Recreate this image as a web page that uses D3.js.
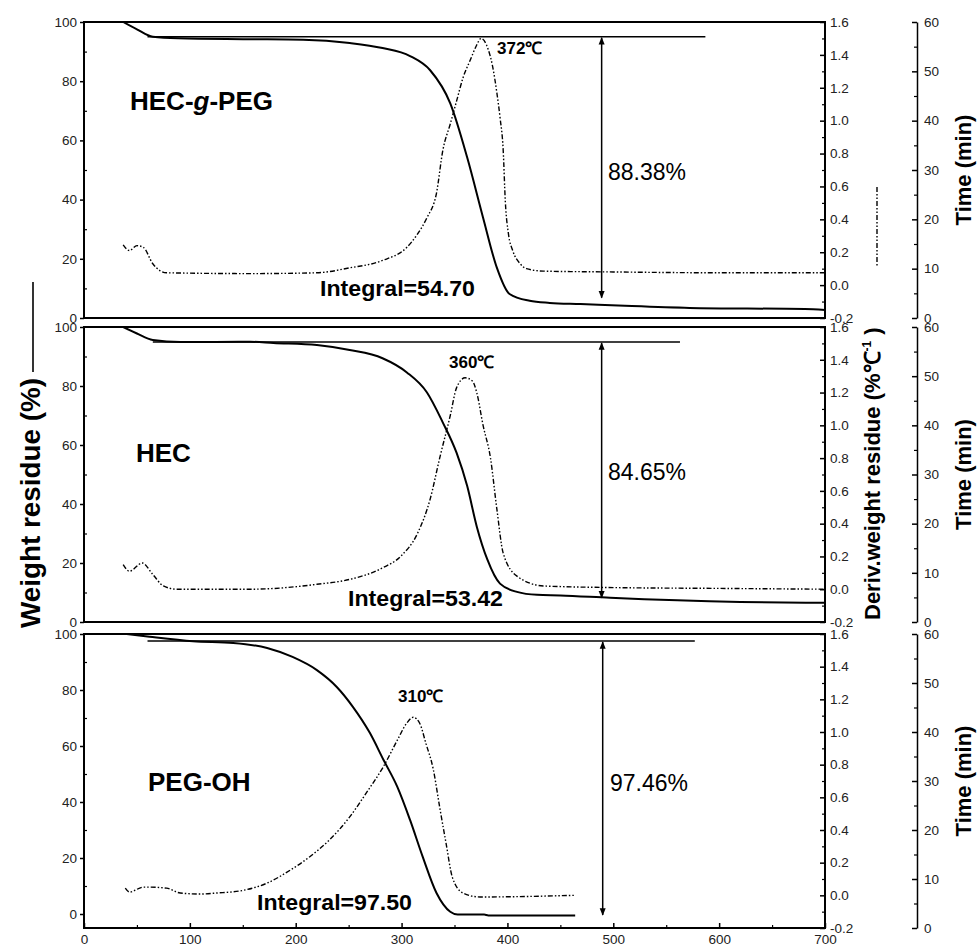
<!DOCTYPE html>
<html><head><meta charset="utf-8">
<script src="https://cdn.jsdelivr.net/npm/d3@7"></script>
<style>body{margin:0;background:#fff}</style>
</head><body><svg id="c" width="977" height="949"></svg>
<script>
// ---------- data ----------
const tempTicks = [0, 100, 200, 300, 400, 500, 600, 700];
const wtTicks = [0, 20, 40, 60, 80, 100];
const derivTicks = [-0.2, 0.0, 0.2, 0.4, 0.6, 0.8, 1.0, 1.2, 1.4, 1.6];
const timeTicks = [0, 10, 20, 30, 40, 50, 60];

const sampleNames = ["HEC-g-PEG", "HEC", "PEG-OH"];

// TG (weight residue, %) curves
const tgT1 = [37, 50, 65, 89, 154, 207, 251, 282, 308, 327, 346, 362, 377, 390, 402, 421, 440, 469, 511, 572, 681, 700];
const tgW1 = [100, 97.5, 95.0, 94.5, 94.2, 94.0, 92.9, 91.2, 88.5, 83.7, 72.5, 54.2, 33.9, 17.0, 8.1, 5.8, 5.1, 4.7, 4.1, 3.4, 3.0, 2.7];
const tgT2 = [37, 50, 65, 91, 157, 179, 220, 251, 282, 305, 324, 339, 352, 362, 371, 381, 393, 409, 428, 450, 497, 620, 700];
const tgW2 = [100, 97.8, 95.6, 94.9, 95.0, 94.6, 93.9, 92.2, 89.4, 84.6, 77.8, 67.6, 57.3, 46.1, 32.4, 21.2, 13.0, 10.2, 9.2, 9.0, 8.2, 6.8, 6.5];
const tgT3 = [40, 62, 103, 141, 173, 197, 220, 239, 254, 270, 283, 296, 308, 320, 333, 346, 353, 378, 382, 464];
const tgW3 = [100, 99.0, 97.4, 96.8, 95.0, 91.8, 87.1, 81.0, 74.0, 64.7, 55.0, 45.4, 33.6, 20.4, 7.5, 0.8, -0.2, -0.2, -0.5, -0.5];

// DTG (deriv. weight residue, %/°C) curves
const dtgT1 = [37, 43, 50, 56, 65, 78, 157, 220, 251, 282, 305, 315, 324, 333, 339, 346, 352, 358, 365, 371, 375, 382, 386, 390, 393, 396, 398, 401, 405, 412, 418, 434, 500, 600, 700];
const dtgV1 = [0.245, 0.21, 0.24, 0.23, 0.13, 0.075, 0.07, 0.075, 0.105, 0.15, 0.23, 0.31, 0.41, 0.56, 0.82, 0.98, 1.12, 1.26, 1.37, 1.46, 1.50, 1.43, 1.33, 1.17, 1.02, 0.82, 0.51, 0.31, 0.21, 0.13, 0.10, 0.085, 0.08, 0.075, 0.075];
const dtgT2 = [37, 43, 55, 65, 75, 88, 157, 220, 251, 282, 299, 315, 327, 336, 346, 352, 360, 367, 371, 377, 384, 390, 396, 409, 434, 500, 600, 700];
const dtgV2 = [0.15, 0.11, 0.16, 0.09, 0.02, 0.0, 0.0, 0.03, 0.06, 0.13, 0.20, 0.34, 0.55, 0.80, 1.06, 1.23, 1.29, 1.27, 1.20, 1.00, 0.80, 0.49, 0.22, 0.08, 0.02, 0.01, 0.005, 0.0];
const dtgT3 = [39, 43, 56, 62, 78, 91, 110, 125, 150, 173, 195, 213, 232, 251, 267, 283, 296, 305, 311, 317, 323, 330, 336, 342, 348, 358, 374, 464];
const dtgV3 = [0.044, 0.02, 0.05, 0.05, 0.044, 0.014, 0.008, 0.014, 0.03, 0.075, 0.155, 0.235, 0.34, 0.48, 0.63, 0.79, 0.95, 1.055, 1.09, 1.055, 0.93, 0.77, 0.54, 0.32, 0.11, 0.014, -0.01, 0.0];

// annotations
const peakLabels = ["372\u2103", "360\u2103", "310\u2103"];
const integralLabels = ["Integral=54.70", "Integral=53.42", "Integral=97.50"];
const lossLabels = ["88.38%", "84.65%", "97.46%"];
const refLevel = [95.0, 94.9, 97.5];      // horizontal reference line (wt %)
const refStartT = [60, 65, 60];
const refEndT = [587, 563, 577];
const arrowT = [489, 489, 490];
const arrowLow = [6.8, 8.2, -0.4];

// ---------- layout ----------
const FONT = "'Liberation Sans', Arial, Helvetica, sans-serif";
const svg = d3.select("#c");
const X0 = 84, X1 = 825, TX = 917;
const panels = [
  {top: 22, bottom: 318, wmin: 0, tg: [tgT1, tgW1], dtg: [dtgT1, dtgV1],
   name: [130, 110], peak: [497, 54], integ: [320, 296], loss: [608, 180]},
  {top: 327, bottom: 622, wmin: 0, tg: [tgT2, tgW2], dtg: [dtgT2, dtgV2],
   name: [136, 462], peak: [449, 368], integ: [348, 606], loss: [608, 480]},
  {top: 634, bottom: 928, wmin: -5, tg: [tgT3, tgW3], dtg: [dtgT3, dtgV3],
   name: [148, 791], peak: [398, 702], integ: [257, 910], loss: [610, 791]}
];

const x = d3.scaleLinear().domain([0, 700]).range([X0, X1]);

const defs = svg.append("defs");
defs.append("marker").attr("id", "ah").attr("viewBox", "0 0 10 10")
  .attr("refX", 9).attr("refY", 5).attr("markerWidth", 5).attr("markerHeight", 5)
  .attr("orient", "auto-start-reverse")
  .append("path").attr("d", "M0,1 L10,5 L0,9 Z").attr("fill", "#000");

panels.forEach((p, i) => {
  const y = d3.scaleLinear().domain([p.wmin, 100]).range([p.bottom, p.top]);
  const yd = d3.scaleLinear().domain([-0.2, 1.6]).range([p.bottom, p.top]);
  const yt = d3.scaleLinear().domain([0, 60]).range([p.bottom, p.top]);
  const g = svg.append("g");

  defs.append("clipPath").attr("id", "clip" + i).append("rect")
    .attr("x", X0).attr("y", p.top).attr("width", X1 - X0).attr("height", p.bottom - p.top);

  // left axis
  const la = g.append("g").attr("transform", `translate(${X0},0)`)
    .call(d3.axisLeft(y).tickValues(wtTicks).tickSizeInner(4).tickSizeOuter(0).tickPadding(3));
  la.select(".domain").remove();
  la.selectAll("text").attr("font-size", 13.5).attr("font-family", FONT).attr("fill", "#222");
  la.selectAll("line").attr("stroke-width", 1.5);
  const lm = g.append("g").attr("transform", `translate(${X0},0)`)
    .call(d3.axisLeft(y).tickValues([10, 30, 50, 70, 90]).tickSize(-3).tickFormat(""));
  lm.select(".domain").remove();
  lm.selectAll("line").attr("stroke-width", 1.2);

  // right (derivative) axis, ticks inward
  const ra = g.append("g").attr("transform", `translate(${X1},0)`)
    .call(d3.axisRight(yd).tickValues(derivTicks).tickSizeInner(-5).tickSizeOuter(0)
      .tickPadding(5).tickFormat(d3.format(".1f")));
  ra.select(".domain").remove();
  ra.selectAll("text").attr("font-size", 13.5).attr("font-family", FONT).attr("fill", "#222")
    .text(d => d3.format(".1f")(d).replace("\u2212", "-"));
  ra.selectAll("line").attr("stroke-width", 1.5);
  const rm = g.append("g").attr("transform", `translate(${X1},0)`)
    .call(d3.axisRight(yd).tickValues([-0.1, 0.1, 0.3, 0.5, 0.7, 0.9, 1.1, 1.3, 1.5]).tickSize(-3).tickFormat(""));
  rm.select(".domain").remove();
  rm.selectAll("line").attr("stroke-width", 1.2);

  // time axis
  const ta = g.append("g").attr("transform", `translate(${TX},0)`)
    .call(d3.axisRight(yt).tickValues(timeTicks).tickSizeInner(-5).tickSizeOuter(0).tickPadding(7));
  ta.select(".domain").attr("stroke-width", 1.5);
  ta.selectAll("text").attr("font-size", 13.5).attr("font-family", FONT).attr("fill", "#222");
  ta.selectAll("line").attr("stroke-width", 1.5);
  const tm = g.append("g").attr("transform", `translate(${TX},0)`)
    .call(d3.axisRight(yt).tickValues([5, 15, 25, 35, 45, 55]).tickSize(-3).tickFormat(""));
  tm.select(".domain").remove();
  tm.selectAll("line").attr("stroke-width", 1.2);

  g.append("text").attr("transform", `translate(971,${(p.top + p.bottom) / 2}) rotate(-90)`)
    .attr("text-anchor", "middle").attr("font-family", FONT).attr("font-weight", "bold")
    .attr("font-size", 22).text("Time (min)");

  // bottom axis for last panel
  if (i === 2) {
    const ba = g.append("g").attr("transform", `translate(0,${p.bottom})`)
      .call(d3.axisBottom(x).tickValues(tempTicks).tickSizeInner(-5).tickSizeOuter(0).tickPadding(6));
    ba.select(".domain").remove();
    ba.selectAll("text").attr("font-size", 13.5).attr("font-family", FONT).attr("fill", "#222");
    ba.selectAll("line").attr("stroke-width", 1.5);
    const bm = g.append("g").attr("transform", `translate(0,${p.bottom})`)
      .call(d3.axisBottom(x).tickValues([50, 150, 250, 350, 450, 550, 650]).tickSize(-3).tickFormat(""));
    bm.select(".domain").remove();
    bm.selectAll("line").attr("stroke-width", 1.2);
  }

  const plot = g.append("g").attr("clip-path", `url(#clip${i})`);

  // reference line
  plot.append("line").attr("x1", x(refStartT[i])).attr("x2", x(refEndT[i]))
    .attr("y1", y(refLevel[i])).attr("y2", y(refLevel[i]))
    .attr("stroke", "#000").attr("stroke-width", 1.6);

  // TG curve
  const tgData = p.tg[0].map((t, k) => [t, p.tg[1][k]]);
  plot.append("path").datum(tgData)
    .attr("d", d3.line().x(d => x(d[0])).y(d => y(d[1])).curve(d3.curveMonotoneX))
    .attr("fill", "none").attr("stroke", "#000").attr("stroke-width", 2);

  // DTG curve
  const dtgData = p.dtg[0].map((t, k) => [t, p.dtg[1][k]]);
  plot.append("path").datum(dtgData)
    .attr("d", d3.line().x(d => x(d[0])).y(d => yd(d[1])).curve(d3.curveMonotoneX))
    .attr("fill", "none").attr("stroke", "#000").attr("stroke-width", 1.4)
    .attr("stroke-dasharray", "5,2,1.5,2,1.5,2");

  // double arrow
  g.append("line").attr("x1", x(arrowT[i])).attr("x2", x(arrowT[i]))
    .attr("y1", y(refLevel[i]) + 1).attr("y2", y(arrowLow[i]))
    .attr("stroke", "#000").attr("stroke-width", 1.5)
    .attr("marker-start", "url(#ah)").attr("marker-end", "url(#ah)");

  // frame
  g.append("rect").attr("x", X0).attr("y", p.top).attr("width", X1 - X0).attr("height", p.bottom - p.top)
    .attr("fill", "none").attr("stroke", "#000").attr("stroke-width", 2);

  // texts
  const nm = g.append("text").attr("x", p.name[0]).attr("y", p.name[1])
    .attr("font-family", FONT).attr("font-weight", "bold").attr("font-size", 26);
  if (i === 0) {
    nm.append("tspan").text("HEC-");
    nm.append("tspan").attr("font-style", "italic").text("g");
    nm.append("tspan").text("-PEG");
  } else {
    nm.text(sampleNames[i]);
  }
  g.append("text").attr("x", p.peak[0]).attr("y", p.peak[1])
    .attr("font-family", FONT).attr("font-weight", "bold").attr("font-size", 17).text(peakLabels[i]);
  g.append("text").attr("x", p.integ[0]).attr("y", p.integ[1])
    .attr("font-family", FONT).attr("font-weight", "bold").attr("font-size", 22)
    .attr("textLength", 155).attr("lengthAdjust", "spacingAndGlyphs").text(integralLabels[i]);
  g.append("text").attr("x", p.loss[0]).attr("y", p.loss[1])
    .attr("font-family", FONT).attr("font-size", 23).text(lossLabels[i]);
});

// left title with solid line sample
svg.append("text").attr("transform", "translate(40,628) rotate(-90)")
  .attr("text-anchor", "start").attr("font-family", FONT).attr("font-weight", "bold")
  .attr("font-size", 27).attr("textLength", 250).attr("lengthAdjust", "spacingAndGlyphs")
  .text("Weight residue (%)");
svg.append("line").attr("x1", 33).attr("x2", 33).attr("y1", 282).attr("y2", 372)
  .attr("stroke", "#000").attr("stroke-width", 1.6);

// right title with dash-dot sample
const rt = svg.append("text").attr("transform", "translate(880,620) rotate(-90)")
  .attr("text-anchor", "start").attr("font-family", FONT).attr("font-weight", "bold")
  .attr("font-size", 22);
rt.append("tspan").text("Deriv.weight residue (%\u2103");
rt.append("tspan").attr("font-size", 12).attr("dy", -9).text("-1");
rt.append("tspan").attr("dy", 9).text(" )");
svg.append("line").attr("x1", 877).attr("x2", 877).attr("y1", 187).attr("y2", 267)
  .attr("stroke", "#000").attr("stroke-width", 1.4).attr("stroke-dasharray", "5,2,1.5,2,1.5,2");
</script></body></html>
